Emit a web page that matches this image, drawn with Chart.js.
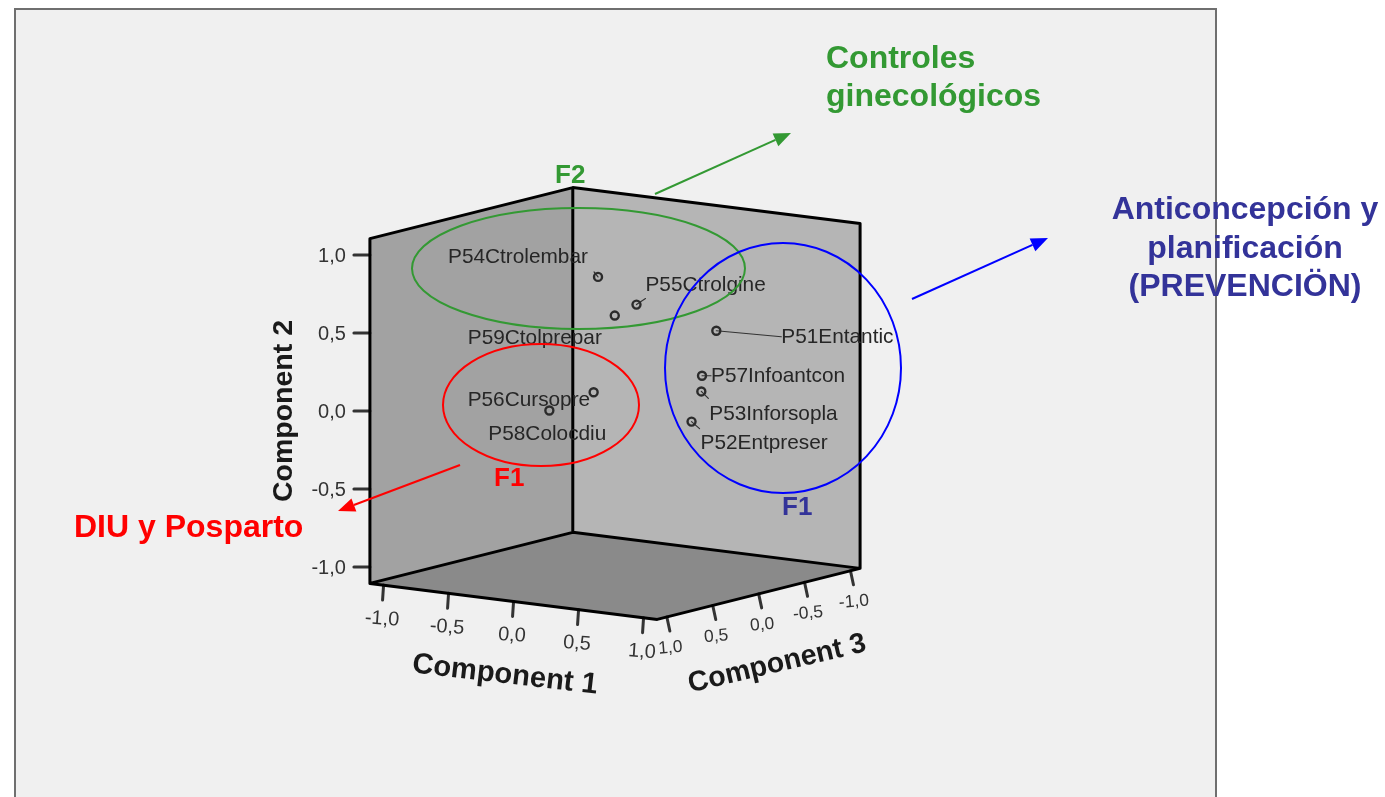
<!DOCTYPE html>
<html>
<head>
<meta charset="utf-8">
<title>Component plot in rotated space</title>
<script src="https://cdn.jsdelivr.net/npm/chart.js@4"></script>
<style>
  html, body { margin: 0; padding: 0; background: #fff; overflow: hidden; }
  canvas { display: block; }
</style>
</head>
<body>
<canvas id="plot" width="1385" height="797"></canvas>
<script>
// loadings
const itemLabels = ['P54Ctrolembar', 'P55Ctrolgine', 'P59Ctolprepar', 'P51Entantic', 'P57Infoantcon',
  'P53Inforsopla', 'P52Entpreser', 'P56Cursopre', 'P58Colocdiu'];
const comp1 = [-0.06, 0.13, 0.21, 0.85, 0.74, 0.77, 0.73, 0.33, 0.06];
const comp2 = [0.82, 0.64, 0.63, 0.57, 0.27, 0.18, -0.01, 0.21, 0.08];
const comp3 = [0.10, -0.05, 0.30, 0.10, 0.10, 0.15, 0.20, 0.70, 0.80];

const tickValues = [-1, -0.5, 0, 0.5, 1];
const tickLabels = ['-1,0', '-0,5', '0,0', '0,5', '1,0'];
const axisTitles = ['Component 1', 'Component 2', 'Component 3'];

// box half size, in component units
const E = 1.105;

// fixed view of the 3D box
function project(c1, c2, c3) {
  return {
    x: 615 + 130 * c1 - 91.8 * c3,
    y: 403.5 - 156 * c2 + 16.3 * c1 + 23.1 * c3
  };
}
function shift(p, dx, dy) { return { x: p.x + dx, y: p.y + dy }; }
const GAP = { x: NaN, y: NaN };

// label placement around each point [left, middle]
const labelOffsets = [[-150, -20], [9, -19], [-147, 23], [65, 7], [9, 1], [8, 23], [9, 22], [-126, 8], [-61, 24]];
const leaderEnds = [[-4, -5], [9, -6], null, [65, 6], [9, 0], [7, 7], [8, 7], null, null];

const points = itemLabels.map((_, i) => project(comp1[i], comp2[i], comp3[i]));

const leaders = [];
points.forEach((p, i) => {
  if (leaderEnds[i]) leaders.push(p, shift(p, leaderEnds[i][0], leaderEnds[i][1]), GAP);
});

const leftWall = [project(-E, -E, E), project(-E, E, E), project(-E, E, -E), project(-E, -E, -E), project(-E, -E, E)];
const rightWall = [project(-E, -E, -E), project(-E, E, -E), project(E, E, -E), project(E, -E, -E), project(-E, -E, -E)];
const floorPlane = [project(-E, -E, E), project(-E, -E, -E), project(E, -E, -E), project(E, -E, E), project(-E, -E, E)];

const edges = [
  project(-E, -E, E), project(-E, E, E), project(-E, E, -E), project(E, E, -E), project(E, -E, -E), GAP,
  project(-E, E, -E), project(-E, -E, -E), GAP,
  project(-E, -E, E), project(-E, -E, -E), project(E, -E, -E), project(E, -E, E), project(-E, -E, E)
];

const ticks = [];
tickValues.forEach(v => {
  const a = project(v, -E, E), b = project(-E, v, E), c = project(E, -E, v);
  ticks.push(a, shift(a, -1, 15), GAP, b, shift(b, -16, 0), GAP, c, shift(c, 3, 14), GAP);
});

function area(data, color, order) {
  return { data, showLine: true, fill: 'shape', backgroundColor: color, borderWidth: 0, pointRadius: 0, order };
}
function stroke(data, color, width, order) {
  return { data, showLine: true, fill: false, borderColor: color, borderWidth: width, pointRadius: 0,
    borderJoinStyle: 'round', borderCapStyle: 'round', order };
}

// slide panel behind the chart
const panelPlugin = {
  id: 'panel',
  beforeDraw(chart) {
    const ctx = chart.ctx;
    ctx.save();
    ctx.fillStyle = '#fff';
    ctx.fillRect(0, 0, 1385, 797);
    ctx.fillStyle = '#f0f0f0';
    ctx.strokeStyle = '#6f6f6f';
    ctx.lineWidth = 2;
    ctx.fillRect(15, 9, 1201, 800);
    ctx.strokeRect(15, 9, 1201, 800);
    ctx.restore();
  }
};

function rotText(ctx, text, x, y, deg) {
  ctx.save();
  ctx.translate(x, y);
  ctx.rotate(deg * Math.PI / 180);
  ctx.fillText(text, 0, 0);
  ctx.restore();
}

// item labels and axis text
const textPlugin = {
  id: 'plotText',
  afterDatasetsDraw(chart) {
    const ctx = chart.ctx, sx = chart.scales.x, sy = chart.scales.y;
    ctx.save();
    ctx.filter = 'blur(0.4px)';
    ctx.fillStyle = '#262626';
    ctx.font = '20.8px "Liberation Sans"';
    ctx.textAlign = 'left';
    ctx.textBaseline = 'middle';
    points.forEach((p, i) => {
      ctx.fillText(itemLabels[i], sx.getPixelForValue(p.x) + labelOffsets[i][0], sy.getPixelForValue(p.y) + labelOffsets[i][1]);
    });

    ctx.fillStyle = '#333';
    ctx.textAlign = 'center';
    tickValues.forEach((v, i) => {
      const a = project(v, -E, E), b = project(-E, v, E), c = project(E, -E, v);
      ctx.font = '20px "Liberation Sans"';
      rotText(ctx, tickLabels[i], sx.getPixelForValue(a.x) - 1.6, sy.getPixelForValue(a.y) + 34, 4);
      ctx.textAlign = 'right';
      ctx.fillText(tickLabels[i], sx.getPixelForValue(b.x) - 24, sy.getPixelForValue(b.y) + 1);
      ctx.textAlign = 'center';
      ctx.font = '17.5px "Liberation Sans"';
      rotText(ctx, tickLabels[i], sx.getPixelForValue(c.x) + 3.5, sy.getPixelForValue(c.y) + 31, -5);
    });

    ctx.fillStyle = '#1a1a1a';
    ctx.font = 'bold 29.2px "Liberation Sans"';
    rotText(ctx, axisTitles[0], 505, 675, 6.6);
    ctx.font = 'bold 28.5px "Liberation Sans"';
    rotText(ctx, axisTitles[1], 284, 411, -90);
    rotText(ctx, axisTitles[2], 777, 664, -13.2);
    ctx.restore();
  }
};

function ellipse(ctx, cx, cy, rx, ry, color) {
  ctx.strokeStyle = color;
  ctx.lineWidth = 2;
  ctx.beginPath();
  ctx.ellipse(cx, cy, rx, ry, 0, 0, Math.PI * 2);
  ctx.stroke();
}
function arrow(ctx, x0, y0, x1, y1, color) {
  const a = Math.atan2(y1 - y0, x1 - x0), len = 17, half = 7;
  const bx = x1 - len * Math.cos(a), by = y1 - len * Math.sin(a);
  ctx.strokeStyle = color;
  ctx.fillStyle = color;
  ctx.lineWidth = 2;
  ctx.beginPath();
  ctx.moveTo(x0, y0);
  ctx.lineTo(bx, by);
  ctx.stroke();
  ctx.beginPath();
  ctx.moveTo(x1, y1);
  ctx.lineTo(bx + half * Math.sin(a), by - half * Math.cos(a));
  ctx.lineTo(bx - half * Math.sin(a), by + half * Math.cos(a));
  ctx.closePath();
  ctx.fill();
}

// hand annotations on top of the slide
const notesPlugin = {
  id: 'notes',
  afterDraw(chart) {
    const ctx = chart.ctx;
    const green = '#339933', navy = '#333399', red = '#ff0000', blue = '#0000ff';
    ctx.save();
    ellipse(ctx, 578.5, 268.5, 166.5, 60.5, green);
    ellipse(ctx, 541, 405, 98, 61, red);
    ellipse(ctx, 783, 368, 118, 125, blue);
    arrow(ctx, 655, 194, 791, 133, green);
    arrow(ctx, 912, 299, 1048, 238, blue);
    arrow(ctx, 460, 465, 338, 511, red);

    ctx.textBaseline = 'alphabetic';
    ctx.textAlign = 'left';
    ctx.font = 'bold 32px "Liberation Sans"';
    ctx.fillStyle = green;
    ctx.fillText('Controles', 826, 68);
    ctx.fillText('ginecológicos', 826, 106);
    ctx.fillStyle = red;
    ctx.fillText('DIU y Posparto', 74, 537);
    ctx.fillStyle = navy;
    ctx.textAlign = 'center';
    ctx.fillText('Anticoncepción y', 1245, 219);
    ctx.fillText('planificación', 1245, 258);
    ctx.fillText('(PREVENCIÖN)', 1245, 296);
    ctx.textAlign = 'left';
    ctx.font = 'bold 26px "Liberation Sans"';
    ctx.fillStyle = green;
    ctx.fillText('F2', 555, 183);
    ctx.fillStyle = red;
    ctx.fillText('F1', 494, 486);
    ctx.fillStyle = navy;
    ctx.fillText('F1', 782, 515);
    ctx.restore();
  }
};

new Chart(document.getElementById('plot'), {
  type: 'scatter',
  data: {
    datasets: [
      area(leftWall, '#a2a2a2', 9),
      area(rightWall, '#b5b5b5', 8),
      area(floorPlane, '#8a8a8a', 7),
      stroke(ticks, '#333', 3, 6),
      stroke(edges, '#000', 3, 5),
      stroke(leaders, '#333', 1.2, 4),
      {
        data: points,
        pointStyle: 'circle',
        pointRadius: 4,
        pointBorderWidth: 2.4,
        pointBorderColor: '#2b2b2b',
        pointBackgroundColor: 'rgba(0,0,0,0)',
        showLine: false,
        order: 3
      }
    ]
  },
  options: {
    responsive: false,
    animation: false,
    events: [],
    layout: { padding: 0, autoPadding: false },
    plugins: { legend: { display: false }, tooltip: { enabled: false } },
    scales: {
      x: { type: 'linear', display: false, min: 0, max: 1385 },
      y: { type: 'linear', display: false, min: 0, max: 797, reverse: true }
    }
  },
  plugins: [panelPlugin, textPlugin, notesPlugin]
});
</script>
</body>
</html>
